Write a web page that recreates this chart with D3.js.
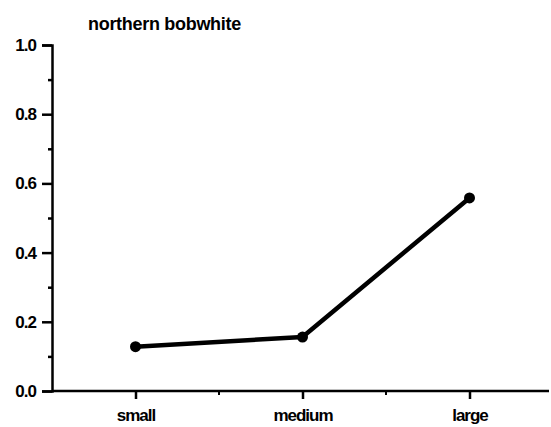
<!DOCTYPE html>
<html>
  <head>
    <meta charset="utf-8">
    <title>northern bobwhite</title>
    <script src="https://cdn.jsdelivr.net/npm/d3@7"></script>
    <style>
      body { margin: 0; background: #fff; }
      svg { display: block; }
      .axis text { font-family: "Liberation Sans", Arial, sans-serif; font-weight: bold; font-size: 17px; fill: #000; letter-spacing: -1px; }
      .axis path, .axis line { stroke: #000; stroke-width: 2.5px; }
      .title { font-family: "Liberation Sans", Arial, sans-serif; font-weight: bold; font-size: 18px; letter-spacing: -0.3px; }
    </style>
  </head>
  <body>
    <svg width="551" height="427"></svg>
    <script>
      var sizes = ["small", "medium", "large"];
      var values = [0.128, 0.156, 0.558];
      var yTicks = [0, 0.2, 0.4, 0.6, 0.8, 1.0];
      var yMinor = [0.1, 0.3, 0.5, 0.7, 0.9];

      var svg = d3.select("svg");
      var marginLeft = 52, marginTop = 45, axisY = 391;

      var x = d3.scalePoint().domain(sizes).range([marginLeft, 553]).padding(0.5);
      var y = d3.scaleLinear().domain([0, 1]).range([axisY, marginTop]);

      // y axis
      var ya = svg.append("g")
          .attr("class", "axis")
          .attr("transform", "translate(" + marginLeft + ",0)")
          .call(d3.axisLeft(y).tickValues(yTicks).tickFormat(d3.format(".1f")).tickSizeOuter(0).tickSize(10).tickPadding(6));
      ya.selectAll("line").attr("stroke-width", 2);

      svg.append("g")
          .attr("class", "axis")
          .attr("transform", "translate(" + marginLeft + ",0)")
          .call(d3.axisLeft(y).tickValues(yMinor).tickFormat("").tickSizeOuter(0).tickSize(4))
          .select(".domain").remove();

      // x axis
      var xa = svg.append("g")
          .attr("class", "axis")
          .attr("transform", "translate(0," + axisY + ")")
          .call(d3.axisBottom(x).tickSizeOuter(0).tickSize(8).tickPadding(10));
      xa.select(".domain").attr("d", "M" + marginLeft + ",0H549");
      xa.selectAll("line").attr("stroke-width", 2);

      var step = x.step();
      var xMinor = sizes.slice(0, 2).map(function(d) { return x(d) + step / 2; });
      svg.append("g")
          .selectAll("line")
          .data(xMinor)
          .enter().append("line")
            .attr("x1", function(d) { return d; })
            .attr("x2", function(d) { return d; })
            .attr("y1", axisY)
            .attr("y2", axisY + 4)
            .attr("stroke", "#000")
            .attr("stroke-width", 2);

      // series
      var line = d3.line()
          .x(function(d, i) { return x(sizes[i]); })
          .y(function(d) { return y(d); });

      svg.append("path")
          .datum(values)
          .attr("fill", "none")
          .attr("stroke", "#000")
          .attr("stroke-width", 4.5)
          .attr("stroke-linejoin", "round")
          .attr("d", line);

      svg.selectAll("circle")
          .data(values)
          .enter().append("circle")
            .attr("cx", function(d, i) { return x(sizes[i]); })
            .attr("cy", function(d) { return y(d); })
            .attr("r", 5.5)
            .attr("fill", "#000");

      svg.append("text")
          .attr("class", "title")
          .attr("x", 88)
          .attr("y", 30)
          .text("northern bobwhite");
    </script>
  </body>
</html>
